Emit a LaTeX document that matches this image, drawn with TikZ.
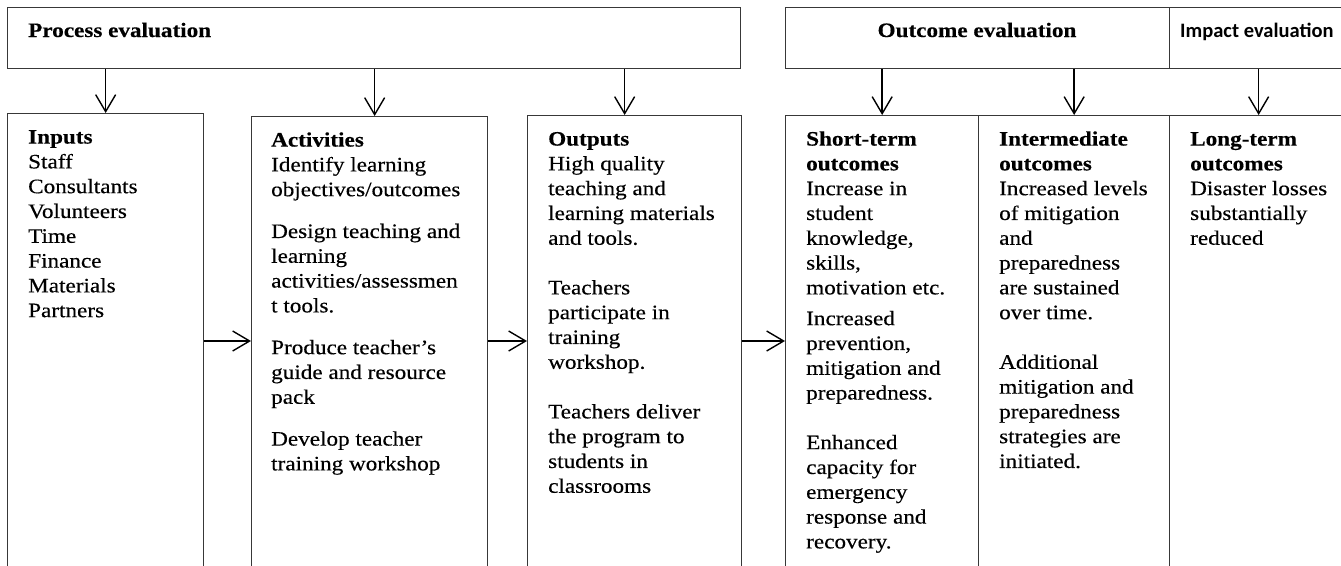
\documentclass[tikz,border=0pt]{standalone}
\usepackage{fontspec}
\setmainfont{Liberation Serif}[FakeStretch=1.13,FakeBold=0.35]
\newfontfamily\calib{Carlito}
\usetikzlibrary{arrows.meta,calc}

\begin{document}
\begin{tikzpicture}[x=1pt,y=-1pt,
  box/.style={draw=black!78, line width=1.3pt, rectangle, inner sep=0pt, anchor=north west},
  arr/.style={draw=black, line width=1.4pt, -{Straight Barb[length=17pt,width=20pt]}},
  txt/.style={anchor=north west, inner sep=0pt, align=left, font=\fontsize{20.5}{24.8}\selectfont},
  ttl/.style={inner sep=0pt, font=\bfseries\fontsize{20.5}{24.8}\selectfont},
]
\useasboundingbox (0,0) rectangle (1341,565);
\clip (0,0) rectangle (1341,565);

% top evaluation boxes
\node[box, minimum width=733pt, minimum height=61pt] (proc) at (7,7) {};
\node[box, minimum width=384pt, minimum height=61pt] (outc) at (785,7) {};
\node[box, minimum width=178pt, minimum height=61pt] (imp) at (1169,7) {};

\node[ttl, anchor=base west] (procL) at (28,37) {Process evaluation};
\node[ttl, anchor=base] (outcL) at (977,37) {Outcome evaluation};
\node[ttl, anchor=base west, font=\calib\bfseries\fontsize{20.5}{24.8}\selectfont] (impL) at (1180,37) {Impact evaluation};

% lower boxes
\node[box, minimum width=196pt, minimum height=500pt] (inp) at (7,113) {};
\node[box, minimum width=236pt, minimum height=500pt] (act) at (251,116) {};
\node[box, minimum width=214pt, minimum height=500pt] (outp) at (527,115) {};
\node[box, minimum width=193pt, minimum height=500pt] (st) at (785,115) {};
\node[box, minimum width=191pt, minimum height=500pt] (im) at (978,115) {};
\node[box, minimum width=178pt, minimum height=500pt] (lt) at (1169,115) {};

% texts
\node[txt] (inpT) at (28,126) {\strut\textbf{Inputs}\\Staff\\Consultants\\Volunteers\\Time\\Finance\\Materials\\Partners};
\node[txt] (actT) at (271,129) {\strut\textbf{Activities}\\Identify learning\\objectives/outcomes\\[17pt]Design teaching and\\learning\\activities/assessmen\\t tools.\\[17pt]Produce teacher’s\\guide and resource\\pack\\[17pt]Develop teacher\\training workshop};
\node[txt] (outpT) at (548,128) {\strut\textbf{Outputs}\\High quality\\teaching and\\learning materials\\and tools.\\[24.8pt]Teachers\\participate in\\training\\workshop.\\[24.8pt]Teachers deliver\\the program to\\students in\\classrooms};
\node[txt] (stT) at (806,128) {\strut\textbf{Short-term}\\\textbf{outcomes}\\Increase in\\student\\knowledge,\\skills,\\motivation etc.\\[6pt]Increased\\prevention,\\mitigation and\\preparedness.\\[24.8pt]Enhanced\\capacity for\\emergency\\response and\\recovery.};
\node[txt] (imT) at (999,128) {\strut\textbf{Intermediate}\\\textbf{outcomes}\\Increased levels\\of mitigation\\and\\preparedness\\are sustained\\over time.\\[24.8pt]Additional\\mitigation and\\preparedness\\strategies are\\initiated.};
\node[txt] (ltT) at (1190,128) {\strut\textbf{Long-term}\\\textbf{outcomes}\\Disaster losses\\substantially\\reduced};

% down arrows
\draw[arr] (inp.north |- proc.south) -- (inp.north);
\draw[arr] ([xshift=5pt]act.north |- proc.south) -- ([xshift=5pt]act.north);
\draw[arr] ([xshift=-10pt]outp.north |- proc.south) -- ([xshift=-10pt]outp.north);
\draw[arr] (st.north |- outc.south) -- (st.north);
\draw[arr] (im.north |- outc.south) -- (im.north);
\draw[arr] (lt.north |- imp.south) -- (lt.north);

% horizontal arrows
\coordinate (row) at (0,341);
\draw[arr] (inp.east |- row) -- (act.west |- row);
\draw[arr] (act.east |- row) -- (outp.west |- row);
\draw[arr] (outp.east |- row) -- (st.west |- row);
\end{tikzpicture}
\end{document}
